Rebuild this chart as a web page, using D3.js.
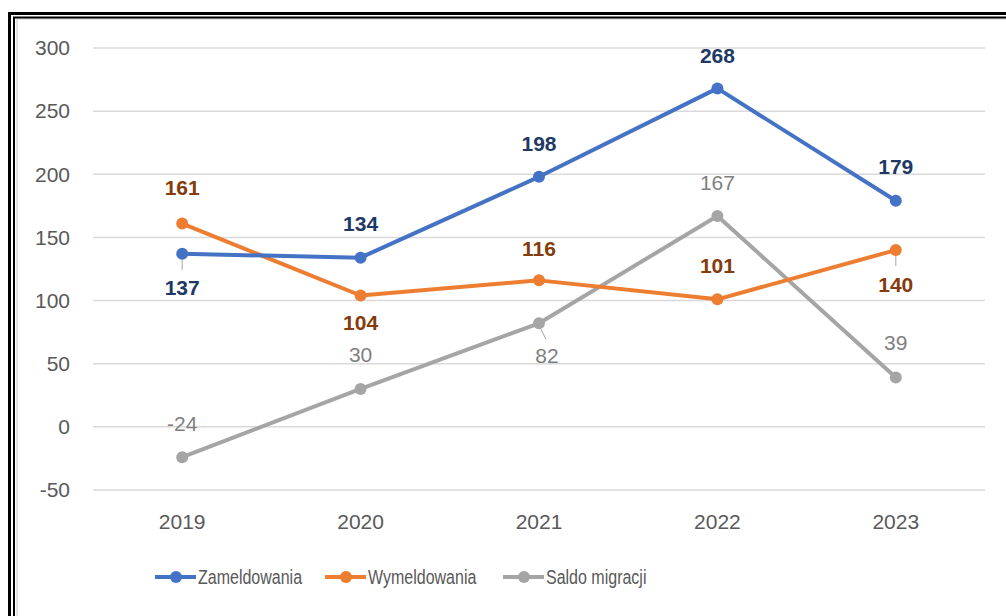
<!DOCTYPE html>
<html>
<head>
<meta charset="utf-8">
<script src="https://d3js.org/d3.v7.min.js"></script>
<style>
  body { margin: 0; background: #fff; }
  text { font-family: "Liberation Sans", Arial, sans-serif; }
</style>
</head>
<body>
<div id="chart"></div>
<script>
// data
const years = ["2019", "2020", "2021", "2022", "2023"]
const zameldowania = [137, 134, 198, 268, 179]
const wymeldowania = [161, 104, 116, 101, 140]
const saldo = [-24, 30, 82, 167, 39]
const yTicks = [-50, 0, 50, 100, 150, 200, 250, 300]
const seriesNames = ["Zameldowania", "Wymeldowania", "Saldo migracji"]

// label offset from the point (px, negative = above) for each series
const labelShift = [
    [34, -34, -33, -33, -34],
    [-36, 27, -32, -34, 35],
    [-34, -34, 32, -33, -35]
]

const width = 1006
const height = 616

const svg = d3.select("#chart")
    .append("svg")
    .attr("width", width)
    .attr("height", height)

// frame (double line on top and left)
svg.append("rect").attr("x", 17).attr("y", 19).attr("width", width).attr("height", height)
    .attr("fill", "none").attr("stroke", "#e4e4e4").attr("stroke-width", 2)
svg.append("path").attr("d", `M9.5,${height} V13.5 H${width}`)
    .attr("fill", "none").attr("stroke", "#000").attr("stroke-width", 3)
svg.append("path").attr("d", `M14,${height} V17.5 H${width}`)
    .attr("fill", "none").attr("stroke", "#000").attr("stroke-width", 2)

const x = d3.scalePoint()
    .domain(years)
    .range([93, 985])
    .padding(0.5)

const y = d3.scaleLinear()
    .domain([-50, 300])
    .range([490, 48])

// gridlines
svg.append("g")
    .selectAll("line")
    .data(yTicks)
    .join("line")
    .attr("x1", 93)
    .attr("x2", 985)
    .attr("y1", d => y(d))
    .attr("y2", d => y(d))
    .attr("stroke", "#d9d9d9")
    .attr("stroke-width", 1.5)

// y axis labels
svg.append("g")
    .selectAll("text")
    .data(yTicks)
    .join("text")
    .attr("x", 70)
    .attr("y", d => y(d))
    .attr("dy", "0.35em")
    .attr("text-anchor", "end")
    .attr("font-size", 21)
    .attr("fill", "#595959")
    .text(d => d)

// x axis labels
svg.append("g")
    .selectAll("text")
    .data(years)
    .join("text")
    .attr("x", d => x(d))
    .attr("y", 522)
    .attr("dy", "0.35em")
    .attr("text-anchor", "middle")
    .attr("font-size", 21)
    .attr("fill", "#595959")
    .text(d => d)

const series = [
    { name: seriesNames[0], values: zameldowania, color: "#4472c4", label: "#203864", weight: "bold" },
    { name: seriesNames[1], values: wymeldowania, color: "#ed7d31", label: "#843c0c", weight: "bold" },
    { name: seriesNames[2], values: saldo, color: "#a5a5a5", label: "#7f7f7f", weight: "normal" }
]

const line = d3.line()
    .x((d, i) => x(years[i]))
    .y(d => y(d))

// small leader lines where the label sits below
const leaders = [[0, 0], [1, 4], [2, 2]]
svg.append("g")
    .selectAll("line")
    .data(leaders)
    .join("line")
    .attr("x1", d => x(years[d[1]]) + (d[0] === 2 ? 2 : 0))
    .attr("x2", d => x(years[d[1]]) + (d[0] === 2 ? 7 : 0))
    .attr("y1", d => y(series[d[0]].values[d[1]]) + 6)
    .attr("y2", d => y(series[d[0]].values[d[1]]) + 16)
    .attr("stroke", "#a6a6a6")
    .attr("stroke-width", 1)

// draw the series in reverse so blue sits on top
series.slice().reverse().forEach(s => {
    svg.append("path")
        .datum(s.values)
        .attr("d", line)
        .attr("fill", "none")
        .attr("stroke", s.color)
        .attr("stroke-width", 4)
        .attr("stroke-linejoin", "round")

    svg.append("g")
        .selectAll("circle")
        .data(s.values)
        .join("circle")
        .attr("cx", (d, i) => x(years[i]))
        .attr("cy", d => y(d))
        .attr("r", 6)
        .attr("fill", s.color)
})

// data labels
series.forEach((s, si) => {
    svg.append("g")
        .selectAll("text")
        .data(s.values)
        .join("text")
        .attr("x", (d, i) => x(years[i]) + (si === 2 && i === 2 ? 8 : 0))
        .attr("y", (d, i) => y(d) + labelShift[si][i])
        .attr("dy", "0.35em")
        .attr("text-anchor", "middle")
        .attr("font-size", 21)
        .attr("font-weight", s.weight)
        .attr("fill", s.label)
        .text(d => d)
})

// legend
const legendX = [155, 325, 503]
const legend = svg.append("g")
    .selectAll("g")
    .data(series)
    .join("g")
    .attr("transform", (d, i) => `translate(${legendX[i]},577)`)

legend.append("line")
    .attr("x1", 0).attr("x2", 41)
    .attr("stroke", d => d.color)
    .attr("stroke-width", 4)
legend.append("circle")
    .attr("cx", 21).attr("r", 6)
    .attr("fill", d => d.color)
legend.append("text")
    .attr("transform", "translate(43,0) scale(0.8,1)")
    .attr("dy", "0.35em")
    .attr("font-size", 20)
    .attr("fill", "#595959")
    .text(d => d.name)
</script>
</body>
</html>
